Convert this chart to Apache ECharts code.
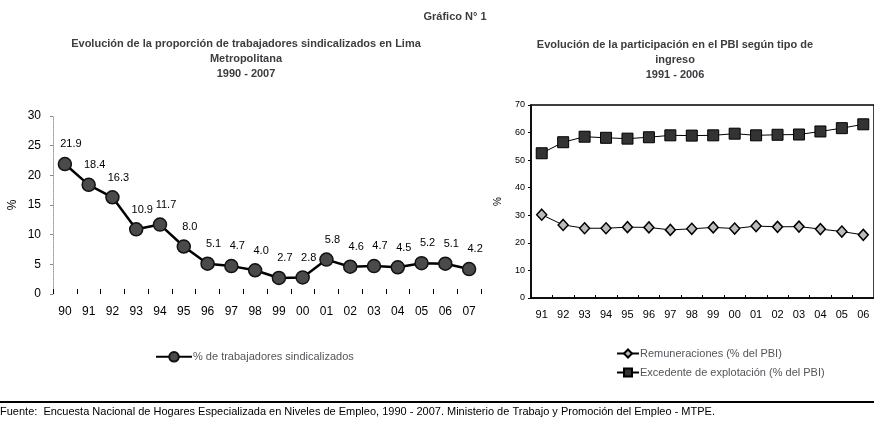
<!DOCTYPE html>
<html><head><meta charset="utf-8">
<script src="https://cdn.jsdelivr.net/npm/echarts@6/dist/echarts.min.js"></script>
<style>html,body{margin:0;padding:0;background:#fff}#c{width:874px;height:425px}</style>
</head><body><div id="c"></div>
<script>
const leftCategories = ['90','91','92','93','94','95','96','97','98','99','00','01','02','03','04','05','06','07'];
const sindicalizados = [21.9,18.4,16.3,10.9,11.7,8.0,5.1,4.7,4.0,2.7,2.8,5.8,4.6,4.7,4.5,5.2,5.1,4.2];
const leftTicks = [0,5,10,15,20,25,30];

const rightCategories = ['91','92','93','94','95','96','97','98','99','00','01','02','03','04','05','06'];
const remuneraciones = [30.2,26.5,25.3,25.3,25.7,25.6,24.7,25.1,25.6,25.2,26.1,25.8,25.9,25.0,24.1,22.9];
const excedente = [52.5,56.5,58.5,58.1,57.8,58.3,59.0,58.9,59.0,59.6,59.0,59.2,59.3,60.4,61.6,63.0];
const rightTicks = [0,10,20,30,40,50,60,70];

const FONT = '"Liberation Sans Narrow","Liberation Sans",Arial,sans-serif';
const chart = echarts.init(document.getElementById('c'), null, {renderer:'canvas'});
chart.setOption({
  animation:false,
  textStyle:{fontFamily:FONT,color:'#000'},
  title:[
    {text:'Gráfico N° 1',left:450,top:6,textAlign:'center',textStyle:{fontSize:11,fontWeight:'bold',fontFamily:FONT}},
    {text:'Evolución de la proporción de trabajadores sindicalizados en Lima\nMetropolitana\n1990 - 2007',left:241,top:31,textAlign:'center',
     textStyle:{fontSize:11,fontWeight:'bold',fontFamily:FONT,lineHeight:15}},
    {text:'Evolución de la participación en el PBI según tipo de\ningreso\n1991 - 2006',left:670,top:32,textAlign:'center',
     textStyle:{fontSize:11,fontWeight:'bold',fontFamily:FONT,lineHeight:15}}
  ],
  legend:[
    {data:['% de trabajadores sindicalizados'],left:150,top:346,itemWidth:36,itemHeight:12,
     textStyle:{fontSize:11,fontFamily:FONT,padding:[0,0,0,-4]}},
    {data:['Remuneraciones (% del PBI)','Excedente de explotación (% del PBI)'],orient:'vertical',left:611,top:343,itemGap:8,
     itemWidth:22,itemHeight:10,textStyle:{fontSize:11,fontFamily:FONT,padding:[0,0,0,-4]}}
  ],
  grid:[
    {left:53,top:116,width:428,height:178},
    {left:531,top:105,width:344,height:193,show:true,borderColor:'#000',borderWidth:1.5}
  ],
  xAxis:[
    {type:'category',gridIndex:0,data:leftCategories,boundaryGap:true,
     axisLine:{show:false},axisTick:{show:true,alignWithLabel:false,length:5,inside:true,lineStyle:{color:'#000'}},
     axisLabel:{fontSize:12,color:'#000',margin:12,fontFamily:FONT}},
    {type:'category',gridIndex:1,data:rightCategories,boundaryGap:true,
     axisLine:{show:true,lineStyle:{color:'#000',width:1.5}},axisTick:{show:true,inside:true,length:3,lineStyle:{color:'#000'}},
     axisLabel:{fontSize:11,color:'#000',margin:11,fontFamily:FONT}}
  ],
  yAxis:[
    {type:'value',gridIndex:0,min:leftTicks[0],max:leftTicks[leftTicks.length-1],interval:5,
     name:'%',nameLocation:'middle',nameGap:34,nameRotate:90,nameTextStyle:{fontSize:12,color:'#000'},
     axisLine:{show:true,lineStyle:{color:'#999',width:1,type:'dotted'}},axisTick:{show:true,length:3,lineStyle:{color:'#888'}},
     splitLine:{show:false},axisLabel:{fontSize:12,color:'#000',margin:12,fontFamily:FONT}},
    {type:'value',gridIndex:1,min:rightTicks[0],max:rightTicks[rightTicks.length-1],interval:10,
     name:'%',nameLocation:'middle',nameGap:28,nameRotate:90,nameTextStyle:{fontSize:10,color:'#000'},
     axisLine:{show:true,lineStyle:{color:'#000',width:1.5}},axisTick:{show:true,length:3,lineStyle:{color:'#000'}},
     splitLine:{show:false},axisLabel:{fontSize:9,color:'#000',margin:6,fontFamily:FONT}}
  ],
  series:[
    {name:'% de trabajadores sindicalizados',type:'line',xAxisIndex:0,yAxisIndex:0,data:sindicalizados,
     symbol:'circle',symbolSize:13,lineStyle:{color:'#000',width:2.5},
     itemStyle:{color:'#4a4a4a',borderColor:'#111',borderWidth:1.5},
     label:{show:true,position:'top',offset:[6,-2],fontSize:11,color:'#000',fontFamily:FONT,
       formatter:p=>p.value.toFixed(1)}},
    {name:'Remuneraciones (% del PBI)',type:'line',xAxisIndex:1,yAxisIndex:1,data:remuneraciones,
     symbol:'diamond',symbolSize:[10,11],lineStyle:{color:'#000',width:1},
     itemStyle:{color:'#bbb',borderColor:'#000',borderWidth:1.5}},
    {name:'Excedente de explotación (% del PBI)',type:'line',xAxisIndex:1,yAxisIndex:1,data:excedente,
     symbol:'rect',symbolSize:11,lineStyle:{color:'#000',width:1},
     itemStyle:{color:'#333',borderColor:'#000',borderWidth:1}}
  ],
  graphic:[
    {type:'line',shape:{x1:0,y1:402,x2:874,y2:402},style:{stroke:'#000',lineWidth:2}},
    {type:'text',left:0,top:406,style:{text:'Fuente:  Encuesta Nacional de Hogares Especializada en Niveles de Empleo, 1990 - 2007. Ministerio de Trabajo y Promoción del Empleo - MTPE.',
      font:'11px '+FONT,fill:'#000'}}
  ]
});
</script></body></html>
